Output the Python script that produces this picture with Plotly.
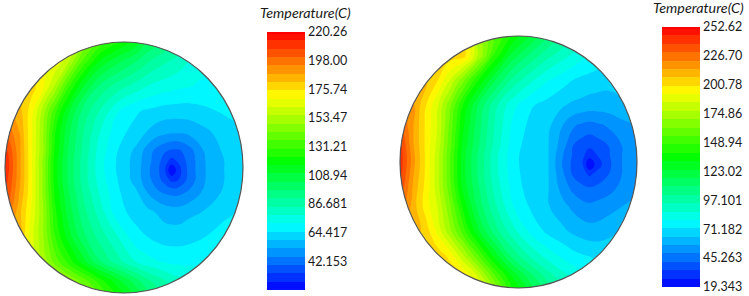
import numpy as np
import plotly.graph_objects as go

W, H = 749, 296

# normalised disc coordinates of the sampled temperatures
rows = [1.05, .85, .65, .45, .28, .13, .05, -.02, -.1, -.2, -.35, -.55, -.75, -.9, -1.05]
cols_a = [-1.05, -.97, -.88, -.78, -.68, -.58, -.47, -.35, -.2, -.05, .1, .2, .28, .34, .4, .46, .55, .68, .85, 1.05]
cols_b = [-1.05, -.97, -.88, -.78, -.68, -.58, -.47, -.35, -.2, -.05, .1, .25, .38, .46, .54, .6, .66, .76, .88, 1.05]

temp_a = [
    [164, 164, 164, 164, 164, 164, 164, 156, 140, 130, 120, 108, 104, 100, 96, 92, 86, 78, 74, 72],
    [168, 168, 168, 168, 168, 168, 158, 136, 116, 106, 98, 92, 88, 86, 84, 82, 78, 74, 72, 72],
    [178, 178, 178, 178, 170, 155, 132, 112, 96, 88, 82, 78, 76, 75, 74, 73, 72, 70, 70, 70],
    [188, 188, 184, 172, 153, 132, 112, 96, 84, 72, 66, 64, 63, 62, 62, 62, 62, 64, 66, 67],
    [205, 198, 188, 170, 150, 124, 106, 92, 78, 67, 63, 58, 55, 54, 53, 53, 54, 57, 62, 65],
    [218, 206, 190, 170, 150, 122, 104, 90, 75, 65, 57, 49, 43, 40, 38, 38, 43, 53, 60, 63],
    [222, 208, 190, 170, 148, 120, 103, 89, 74, 64, 56, 48, 42, 36, 30, 34, 42, 52, 59, 62],
    [222, 208, 190, 170, 148, 120, 103, 89, 74, 64, 56, 47, 41, 34, 20, 30, 42, 52, 59, 62],
    [222, 206, 190, 170, 148, 120, 103, 89, 75, 65, 56, 48, 42, 37, 31, 33, 42, 52, 59, 62],
    [212, 204, 188, 170, 148, 122, 105, 91, 77, 66, 60, 52, 47, 45, 44, 44, 47, 54, 60, 63],
    [200, 198, 184, 168, 150, 125, 108, 94, 81, 67, 63, 60, 58, 56, 55, 55, 57, 59, 63, 67],
    [185, 185, 182, 165, 150, 130, 114, 100, 88, 78, 67, 65, 63, 62, 62, 62, 63, 65, 69, 72],
    [170, 170, 170, 168, 155, 140, 128, 114, 98, 87, 78, 74, 72, 71, 70, 70, 70, 71, 73, 74],
    [165, 165, 165, 165, 165, 160, 150, 140, 126, 112, 100, 92, 88, 85, 82, 80, 77, 75, 74, 74],
    [160, 160, 160, 160, 160, 160, 155, 148, 140, 125, 112, 102, 96, 92, 88, 85, 80, 76, 74, 74],
]
temp_b = [
    [190, 190, 190, 190, 190, 190, 190, 172, 155, 143, 130, 115, 105, 100, 95, 92, 89, 84, 80, 78],
    [205, 205, 205, 205, 205, 205, 205, 180, 146, 122, 108, 97, 90, 86, 82, 80, 78, 76, 74, 74],
    [208, 208, 208, 208, 200, 185, 165, 142, 118, 100, 89, 80, 75, 72, 70, 69, 68, 67, 68, 70],
    [222, 222, 215, 200, 185, 165, 140, 118, 97, 82, 73, 69, 65, 63, 62, 61, 61, 61, 63, 65],
    [236, 228, 214, 198, 184, 160, 134, 114, 94, 78, 70, 66, 56, 50, 47, 46, 47, 50, 54, 57],
    [250, 234, 214, 198, 182, 158, 130, 112, 92, 76, 68, 65, 52, 42, 38, 36, 38, 42, 50, 55],
    [252, 236, 216, 198, 180, 156, 128, 110, 90, 75, 67, 65, 49, 41, 36, 30, 34, 41, 50, 55],
    [252, 236, 216, 198, 180, 156, 128, 110, 90, 75, 67, 65, 48, 40, 35, 19.5, 30, 40, 50, 55],
    [250, 234, 214, 198, 180, 156, 128, 110, 90, 76, 67, 65, 50, 41, 38, 33, 37, 42, 50, 55],
    [240, 230, 212, 197, 180, 158, 130, 112, 92, 77, 68, 65, 53, 47, 43, 42, 43, 46, 52, 56],
    [225, 225, 210, 196, 184, 164, 138, 116, 96, 80, 71, 65, 59, 55, 52, 51, 52, 54, 57, 60],
    [214, 214, 212, 204, 190, 172, 152, 128, 106, 90, 78, 70, 66, 63, 61, 60, 60, 62, 65, 68],
    [205, 205, 205, 205, 205, 198, 180, 158, 130, 108, 94, 84, 78, 75, 73, 72, 71, 71, 72, 74],
    [205, 205, 205, 205, 205, 205, 200, 185, 155, 130, 112, 98, 89, 85, 81, 79, 77, 76, 76, 76],
    [205, 205, 205, 205, 205, 205, 205, 195, 175, 145, 125, 110, 98, 92, 86, 83, 81, 78, 78, 78],
]

ticks_a = ["19.889", "42.153", "64.417", "86.681", "108.94", "131.21", "153.47", "175.74", "198.00", "220.26"]
ticks_b = ["19.343", "45.263", "71.182", "97.101", "123.02", "148.94", "174.86", "200.78", "226.70", "252.62"]

BANDS = 31
FONT = "Lato, 'Open Sans', sans-serif"
scale = [[0, "#0000ff"], [.25, "#00ffff"], [.5, "#00ff00"], [.75, "#ffff00"], [1, "#ff0000"]]
bar_w = 38


def disc(fig, cols, temps, ticks, xname, bar_x, bar_top, bar_h):
    lo, hi = float(ticks[0]), float(ticks[-1])
    fig.add_trace(go.Contour(
        x=cols, y=rows, z=temps, xaxis="x" + xname, yaxis="y" + xname,
        colorscale=scale, zmin=lo, zmax=hi, autocontour=False,
        contours=dict(start=lo, end=hi, size=(hi - lo) / BANDS, coloring="fill", showlines=False),
        line=dict(width=0, smoothing=1.3), hoverinfo="skip",
        colorbar=dict(
            x=bar_x / W, xanchor="left", xpad=0, thickness=bar_w,
            y=1 - bar_top / H, yanchor="top", ypad=0, len=bar_h / H,
            outlinewidth=0, tickvals=[float(t) for t in ticks], ticktext=ticks,
            ticks="", tickfont=dict(family=FONT, size=12.5, color="#1a1a1a"),
        ),
    ))


fig = go.Figure()
sx, sy = 1.03, 1.02
layout_axes = {}
specs = [
    (cols_a, temp_a, ticks_a, "", 124, 167.5, 119, 125.5, 267, 32, 258),
    (cols_b, temp_b, ticks_b, "2", 518.5, 162, 118.5, 126, 662, 27, 260),
]
theta = np.linspace(0, 2 * np.pi, 361)
shapes = []
holes = ""
for cols, temps, ticks, name, cx, cy, rx, ry, bx, bt, bh in specs:
    disc(fig, cols, temps, ticks, name, bx, bt, bh)
    axis = dict(visible=False, fixedrange=True)
    layout_axes["xaxis" + name] = dict(axis, range=[-sx, sx], domain=[(cx - sx * rx) / W, (cx + sx * rx) / W])
    layout_axes["yaxis" + name] = dict(axis, range=[-sy, sy], domain=[1 - (cy + sy * ry) / H, 1 - (cy - sy * ry) / H])
    xr, yr = "x" + name, "y" + name
    holes += " " + " ".join(
        ("M" if i == 0 else "L") + f"{(cx + rx * np.cos(t)) / W:.5f},{1 - (cy + ry * np.sin(t)) / H:.5f}"
        for i, t in enumerate(theta)
    ) + " Z"
    shapes.append(dict(type="circle", xref=xr, yref=yr, x0=-1, x1=1, y0=-1, y1=1, line=dict(color="#555555", width=1.2)))
shapes.insert(0, dict(type="path", xref="paper", yref="paper", fillrule="evenodd", fillcolor="white",
                      line=dict(width=0), path="M-0.1,-0.1 L1.1,-0.1 L1.1,1.1 L-0.1,1.1 Z" + holes))

title = dict(text="<i>Temperature(C)</i>", showarrow=False, xref="paper", yref="paper",
             font=dict(family=FONT, size=14.3, color="#1a1a1a"), xanchor="center", yanchor="middle")
fig.update_layout(
    width=W, height=H, margin=dict(l=0, r=0, t=0, b=0), paper_bgcolor="white", plot_bgcolor="white",
    shapes=shapes, showlegend=False,
    annotations=[dict(title, x=305 / W, y=1 - 12 / H), dict(title, x=698 / W, y=1 - 7 / H)],
    **layout_axes,
)
fig.write_html("out.html", config=dict(displayModeBar=False, staticPlot=True),
               post_script="document.body.style.margin='0';document.body.style.overflow='hidden';")
